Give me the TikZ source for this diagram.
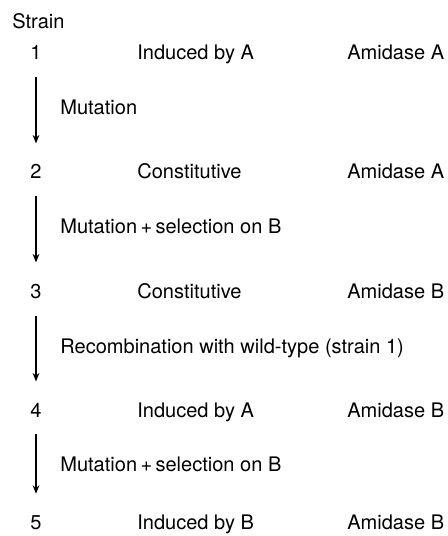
\documentclass[tikz,border=0pt]{standalone}
\usepackage{fontspec}
\setmainfont{TeX Gyre Heros}
\usepackage{tikz}
\usetikzlibrary{arrows.meta, positioning}

\begin{document}
\begin{tikzpicture}[
    font=\fontsize{11.4}{13.5}\selectfont,
    num/.style={anchor=base, inner sep=0pt},
    txt/.style={anchor=base west, inner sep=0pt},
    lbl/.style={anchor=base west, inner sep=0pt},
    arr/.style={-{Stealth[length=4.8pt, width=3.8pt]}, line width=1pt,
                shorten <=0.34cm, shorten >=0.42cm}]

  \useasboundingbox (0,0) rectangle (8.94,-10.72);

  \node[txt] (strain) at (0.24,-0.58) {Strain};

  % strains
  \node[num] (n1) at (0.72,-1.20) {1};
  \node[txt] (p1) at (2.74,-1.20) {Induced by A};
  \node[txt] (e1) at (6.94,-1.20) {Amidase A};

  \node[num] (n2) at (0.72,-3.58) {2};
  \node[txt] (p2) at (2.74,-3.58) {Constitutive};
  \node[txt] (e2) at (6.94,-3.58) {Amidase A};

  \node[num] (n3) at (0.72,-5.96) {3};
  \node[txt] (p3) at (2.74,-5.96) {Constitutive};
  \node[txt] (e3) at (6.94,-5.96) {Amidase B};

  \node[num] (n4) at (0.72,-8.34) {4};
  \node[txt] (p4) at (2.74,-8.34) {Induced by A};
  \node[txt] (e4) at (6.94,-8.34) {Amidase B};

  \node[num] (n5) at (0.72,-10.58) {5};
  \node[txt] (p5) at (2.74,-10.58) {Induced by B};
  \node[txt] (e5) at (6.94,-10.58) {Amidase B};

  % steps
  \node[lbl] (s1) at (1.20,-2.30) {Mutation};
  \node[lbl] (s2) at (1.20,-4.68) {Mutation\,+\,selection on B};
  \node[lbl] (s3) at (1.20,-7.06) {Recombination with wild-type (strain 1)};
  \node[lbl] (s4) at (1.20,-9.42) {Mutation\,+\,selection on B};

  \draw[arr] (n1.south) -- (n2.north);
  \draw[arr] (n2.south) -- (n3.north);
  \draw[arr] (n3.south) -- (n4.north);
  \draw[arr] (n4.south) -- (n5.north);
\end{tikzpicture}
\end{document}
